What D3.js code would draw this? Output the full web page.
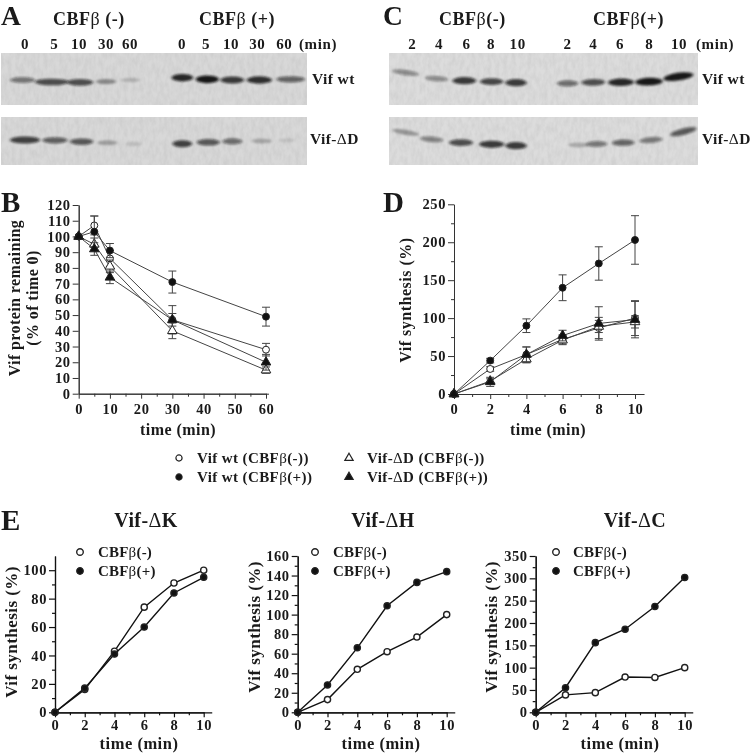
<!DOCTYPE html>
<html><head><meta charset="utf-8">
<script src="https://cdn.jsdelivr.net/npm/d3@7"></script>
<style>html,body{margin:0;padding:0;background:#fff}svg{display:block;filter:blur(0.35px)}text{font-family:"Liberation Serif",serif;font-weight:bold;fill:#1a1a1a}</style>
</head><body><svg id="c" width="750" height="753"></svg>
<script>
// ---------- data ----------
const timesB = [0,5,10,30,60];
const timesD = [0,2,4,6,8,10];
const bWtMinus = [100,107,86,47,28], bWtMinusErr = [0,6,5,9,4];
const bWtPlus  = [100,103,91,71,49], bWtPlusErr  = [0,10,4.5,7,6];
const bDdMinus = [100,95,81,40,15],  bDdMinusErr = [0,4,4,5,2];
const bDdPlus  = [100,92,74,47,20],  bDdPlusErr  = [0,4,4,4,5];
const dWtMinus = [0,33,52,72,87,100], dWtMinusErr = [0,3,10,6,14,23];
const dWtPlus  = [0,44,90,140,172,203], dWtPlusErr = [0,3,9,17,22,32];
const dDdMinus = [0,17,46,71,89,95], dDdMinusErr = [0,3,5,6,8,8];
const dDdPlus  = [0,16,52,77,93,98], dDdPlusErr = [0,6,10,7,22,24];
const eKMinus = [0,16,43,74,91,100], eKPlus = [0,17,41,60,84,95];
const eHMinus = [0,13,44,62,77,100], eHPlus = [0,28,66,109,133,144];
const eCMinus = [0,39,44,79,78,100], eCPlus = [0,55,156,186,237,302];
const gelALabels = ["0","5","10","30","60","0","5","10","30","60"];
const gelCLabels = ["2","4","6","8","10","2","4","6","8","10"];
const gelAWt = [.5,.72,.72,.35,.14,.92,1,.82,.88,.6];
const gelADd = [.78,.62,.66,.24,.08,.78,.66,.55,.2,.06];
const gelCWt = [.4,.4,.82,.76,.82,.55,.72,.92,1,1];
const gelCDd = [.3,.45,.72,.82,.82,.2,.5,.6,.5,.66];
const legendLabels = ["Vif wt (CBFβ(-))","Vif wt (CBFβ(+))","Vif-ΔD (CBFβ(-))","Vif-ΔD (CBFβ(+))"];

// ---------- layout ----------
const svg = d3.select("#c");
const defs = svg.append("defs");
defs.append("filter").attr("id","bandBlur").attr("x","-30%").attr("y","-100%").attr("width","160%").attr("height","300%")
  .append("feGaussianBlur").attr("stdDeviation","1.8 1.2");
const nf = defs.append("filter").attr("id","grain").attr("x","0").attr("y","0").attr("width","100%").attr("height","100%");
nf.append("feTurbulence").attr("type","fractalNoise").attr("baseFrequency","0.25 0.12").attr("numOctaves",3).attr("seed",4);
nf.append("feColorMatrix").attr("values","0 0 0 0 0.4  0 0 0 0 0.4  0 0 0 0 0.4  0.4 0 0 0 -0.12");

const richText = (sel, str) => {
  sel.text(null);
  str.split(/([βΔ])/).filter(s=>s).forEach(s=>{
    sel.append("tspan").style("font-weight", /[βΔ]/.test(s) ? "normal":"bold").text(s);
  });
  return sel;
};
const label = (x,y,str,size,opt={}) => {
  const t = svg.append("text").attr("x",x).attr("y",y).style("font-size",size+"px")
    .style("letter-spacing",(opt.ls??0.6)+"px").attr("text-anchor",opt.anchor||"start");
  if(opt.rot) t.attr("transform",`rotate(${opt.rot} ${x} ${y})`);
  return richText(t,str);
};

// ---------- blots ----------
function gel(x,y,w,h,laneX,laneY,laneW,tilt,vals,shade){
  const g = svg.append("g");
  const id = "clip"+x+"_"+y;
  defs.append("clipPath").attr("id",id).append("rect").attr("x",x).attr("y",y).attr("width",w).attr("height",h);
  g.attr("clip-path",`url(#${id})`);
  g.append("rect").attr("x",x).attr("y",y).attr("width",w).attr("height",h).attr("fill",shade);
  g.append("rect").attr("x",x).attr("y",y).attr("width",w).attr("height",h).attr("filter","url(#grain)");
  const idx = d3.range(vals.length);
  g.selectAll("ellipse").data(idx).join("ellipse")
    .attr("cx",i=>laneX[i]).attr("cy",i=>laneY[i]).attr("rx",i=>laneW[i]/2).attr("ry",i=>2+1.9*vals[i])
    .attr("transform",i=>`rotate(${tilt[i]} ${laneX[i]} ${laneY[i]})`)
    .attr("fill","#111").attr("fill-opacity",i=>0.05+0.9*vals[i]).attr("filter","url(#bandBlur)");
}
const z = a => a.map(v=>v/3);
const zx = a => a.map(v=>375+v/3);
const zero = new Array(10).fill(0);
gel(1,53,306,52,z([68,155,240,318,392,547,622,697,778,872]),z([240,246,247,245,240,233,238,240,240,238]),z([75,100,80,60,60,65,70,72,75,85]),zero,gelAWt,"#d8d8d8");
gel(1,117,306,48,z([75,165,245,322,400,547,625,697,785,860]),z([420,421,425,428,432,431,427,424,423,421]),z([90,75,70,60,50,60,70,60,60,50]),zero,gelADd,"#d8d8d8");
gel(389,53,309,52,zx([92,185,268,350,423,578,655,738,822,910]),z([218,236,242,245,248,250,247,247,245,230]),z([80,70,72,70,65,65,72,78,82,90]),[8,4,0,0,0,0,-1,-1,-2,-8],gelCWt,"#dcdcdc");
gel(389,117,309,48,zx([92,170,258,350,423,610,665,745,828,925]),z([397,418,428,433,437,435,432,428,420,395]),z([80,70,72,75,65,60,65,68,70,80]),[10,5,0,0,0,0,-1,-1,-5,-14],gelCDd,"#dcdcdc");

label(53,25,"CBFβ (-)",18,{ls:0.5});
label(199,25,"CBFβ (+)",18,{ls:0.5});
label(439,25,"CBFβ(-)",18,{ls:0.5});
label(593,25,"CBFβ(+)",18,{ls:0.5});
const laneLab = (xs,labs)=>labs.forEach((l,i)=>label(xs[i],49,l,15,{anchor:"middle",ls:0.6}));
laneLab(z([75,163,237,318,390,546,618,693,772,853]),gelALabels);
laneLab(zx([112,192,275,348,428,578,655,735,823,912]),gelCLabels);
label(299,49,"(min)",15,{ls:0.6});
label(696,49,"(min)",15,{ls:0.6});
label(312,84,"Vif wt",15.5,{ls:0.4});
label(310,144,"Vif-ΔD",15.5,{ls:0.4});
label(702,84,"Vif wt",15.5,{ls:0.4});
label(702,144,"Vif-ΔD",15.5,{ls:0.4});
label(1,24.5,"A",27.5,{ls:0}); label(383,24.5,"C",27.5,{ls:0});
label(1,212,"B",29,{ls:0}); label(383,212,"D",29,{ls:0});
label(1,530,"E",29,{ls:0});

// ---------- charts ----------
const sym = {
  circle: d3.symbol().type(d3.symbolCircle),
  triangle: d3.symbol().type(d3.symbolTriangle)
};
function chart(c){
  const x = d3.scaleLinear().domain(c.xDomain).range(c.xRange);
  const y = d3.scaleLinear().domain(c.yDomain).range(c.yRange);
  const g = svg.append("g");
  const col = c.color || "#222";
  const ax = (gen,tf,sw) => {
    const a = g.append("g").attr("transform",tf).call(gen);
    a.selectAll("path.domain").attr("stroke",col).attr("stroke-width",sw);
    a.selectAll("line").attr("stroke",col).attr("stroke-width",sw);
    a.selectAll("text").style("font-family",'"Liberation Serif",serif').style("font-weight","bold")
      .style("font-size",c.tickFont+"px").style("letter-spacing","0.6px").attr("fill","#1a1a1a");
    return a;
  };
  const bottomT = `translate(0,${c.yRange[0]})`, leftT = `translate(${c.xRange[0]},0)`;
  ax(d3.axisBottom(d3.scaleLinear().domain([c.xDomain[0],c.xEnd]).range([c.xRange[0],x(c.xEnd)])).tickValues(c.xMinor).tickSize(3).tickFormat("").tickSizeOuter(0),bottomT,c.axisW);
  ax(d3.axisBottom(x).tickValues(c.xTicks).tickSize(5).tickPadding(c.xPad).tickSizeOuter(0),bottomT,c.axisW);
  ax(d3.axisLeft(y).tickValues(c.yMinor).tickSize(3).tickFormat("").tickSizeOuter(0),leftT,c.axisW);
  ax(d3.axisLeft(y).tickValues(c.yTicks).tickSize(6).tickPadding(2).tickSizeOuter(0),leftT,c.axisW);
  c.series.forEach(s=>{
    const pts = s.values.map((v,i)=>({t:c.xTicksData[i],v,e:s.err?s.err[i]:0}));
    g.append("path").attr("d",d3.line().x(d=>x(d.t)).y(d=>y(d.v))(pts))
      .attr("fill","none").attr("stroke",c.lineColor).attr("stroke-width",c.lineW);
    if(s.err){
      const eb = g.append("g").selectAll("g").data(pts.filter(d=>d.e>0)).join("g")
        .attr("stroke","#444").attr("stroke-width",1);
      eb.append("line").attr("x1",d=>x(d.t)).attr("x2",d=>x(d.t)).attr("y1",d=>y(d.v-d.e)).attr("y2",d=>y(d.v+d.e));
      [1,-1].forEach(sg=>eb.append("line").attr("x1",d=>x(d.t)-4).attr("x2",d=>x(d.t)+4)
        .attr("y1",d=>y(d.v+sg*d.e)).attr("y2",d=>y(d.v+sg*d.e)));
    }
    g.append("g").selectAll("path").data(pts).join("path")
      .attr("d",s.shape==="tri"?sym.triangle.size(c.triSize)():sym.circle.size(c.circSize)())
      .attr("transform",d=>`translate(${x(d.t)},${y(d.v)})`)
      .attr("fill",s.filled?"#111":"#fff").attr("stroke","#222").attr("stroke-width",c.markW);
  });
}
const base = {tickFont:14.5,axisW:1,lineW:1,lineColor:"#444",markW:1,circSize:38,triSize:40,color:"#333",xPad:5};
chart({...base,xDomain:[0,60],xRange:[78.7,266],xEnd:60.8,yDomain:[0,120],yRange:[393.7,205],
  xTicks:[0,10,20,30,40,50,60],xMinor:[5,15,25,35,45,55],yTicks:d3.range(0,121,10),yMinor:[],xTicksData:timesB,
  series:[{values:bWtMinus,err:bWtMinusErr},{values:bDdMinus,err:bDdMinusErr,shape:"tri"},{values:bWtPlus,err:bWtPlusErr,filled:true},{values:bDdPlus,err:bDdPlusErr,shape:"tri",filled:true}]});
chart({...base,xDomain:[0,10],xRange:[454,635],xEnd:10.5,yDomain:[0,250],yRange:[394,204.3],
  xTicks:timesD,xMinor:[1,3,5,7,9],yTicks:[0,50,100,150,200,250],yMinor:[25,75,125,175,225],xTicksData:timesD,
  series:[{values:dWtMinus,err:dWtMinusErr},{values:dDdMinus,err:dDdMinusErr,shape:"tri"},{values:dWtPlus,err:dWtPlusErr,filled:true},{values:dDdPlus,err:dDdPlusErr,shape:"tri",filled:true}]});
const eBase = {...base,lineW:1.4,lineColor:"#111",axisW:1.2,markW:1.4,circSize:30,color:"#111",xPad:2,xDomain:[0,10],xEnd:10.54,xTicks:timesD,xMinor:[1,3,5,7,9],xTicksData:timesD};
chart({...eBase,xRange:[55,203.7],yDomain:[0,110],yRange:[712.3,556],yTicks:[0,20,40,60,80,100],yMinor:[10,30,50,70,90],
  series:[{values:eKMinus},{values:eKPlus,filled:true}]});
chart({...eBase,xRange:[297.7,446.7],yDomain:[0,160],yRange:[712.3,556],yTicks:d3.range(0,161,20),yMinor:d3.range(10,160,20),
  series:[{values:eHMinus},{values:eHPlus,filled:true}]});
chart({...eBase,xRange:[535.7,684.7],yDomain:[0,350],yRange:[712.3,556],yTicks:d3.range(0,351,50),yMinor:d3.range(25,350,50),
  series:[{values:eCMinus},{values:eCPlus,filled:true}]});

// axis titles
label(20,298,"Vif protein remaining",16,{anchor:"middle",rot:-90,ls:0.4});
label(38,298,"(% of time 0)",16,{anchor:"middle",rot:-90,ls:0.4});
label(411,300,"Vif synthesis (%)",16,{anchor:"middle",rot:-90,ls:0.5});
label(178,435,"time (min)",16,{anchor:"middle",ls:0.45});
label(548,435,"time (min)",16,{anchor:"middle",ls:0.45});
label(17,632,"Vif synthesis (%)",17,{anchor:"middle",rot:-90,ls:0.45});
label(260,627,"Vif synthesis (%)",17,{anchor:"middle",rot:-90,ls:0.45});
label(497,627,"Vif synthesis (%)",17,{anchor:"middle",rot:-90,ls:0.45});
label(139,749,"time (min)",16.5,{anchor:"middle",ls:0.5});
label(381,749,"time (min)",16.5,{anchor:"middle",ls:0.5});
label(620,749,"time (min)",16.5,{anchor:"middle",ls:0.5});
label(146,527,"Vif-ΔK",20,{anchor:"middle",ls:0.4});
label(383,527,"Vif-ΔH",20,{anchor:"middle",ls:0.4});
label(635,527,"Vif-ΔC",20,{anchor:"middle",ls:0.4});

// legends
const mark = (x,y,shape,filled,size,sw) => svg.append("path")
  .attr("d",(shape==="tri"?sym.triangle:sym.circle).size(size)())
  .attr("transform",`translate(${x},${y})`).attr("fill",filled?"#111":"#fff").attr("stroke","#222").attr("stroke-width",sw);
[[179,458,"c",false],[179,477,"c",true],[349,458,"tri",false],[349,477,"tri",true]].forEach((m,i)=>{
  mark(m[0],m[1],m[2],m[3],30,1.2);
  label(m[0]+18,m[1]+5,legendLabels[i],15,{ls:0.4});
});
[[80,98],[315,333],[556,573]].forEach(p=>{
  mark(p[0],552,"c",false,34,1.4);
  mark(p[0],571,"c",true,34,1.2);
  label(p[1],557,"CBFβ(-)",15,{ls:0.2});
  label(p[1],576,"CBFβ(+)",15,{ls:0.2});
});
</script></body></html>
